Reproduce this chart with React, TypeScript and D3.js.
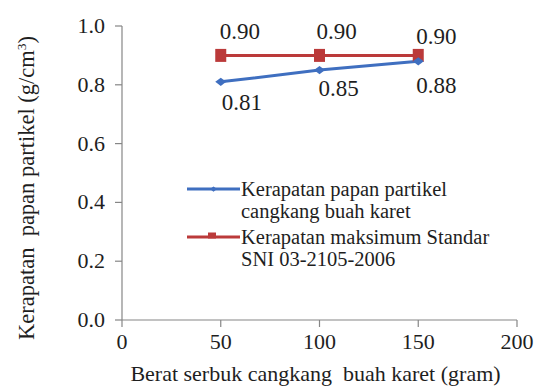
import React from "react";
import * as d3 from "d3";

const weights = [50, 100, 150];
const densityBoard = [0.81, 0.85, 0.88];
const densityStandard = [0.9, 0.9, 0.9];
const xTicks = [0, 50, 100, 150, 200];
const yTicks = [0, 0.2, 0.4, 0.6, 0.8, 1.0];
const legendBoard = ["Kerapatan papan partikel", "cangkang buah karet"];
const legendStandard = ["Kerapatan maksimum Standar", "SNI 03-2105-2006"];

const W = 535, H = 389;
const FONT = '"Liberation Serif", "Times New Roman", Tinos, serif';
const BLUE = "#3f6fc0";
const RED = "#bb3a3a";
const AXIS = "#868686";
const INK = "#1e1e1e";

export default function App() {
  const x = d3.scaleLinear().domain([0, 200]).range([122, 517]);
  const y = d3.scaleLinear().domain([0, 1]).range([320, 26]);
  const line = d3.line<[number, number]>().x(d => x(d[0])).y(d => y(d[1]));
  const boardPts = weights.map((w, i) => [w, densityBoard[i]] as [number, number]);
  const stdPts = weights.map((w, i) => [w, densityStandard[i]] as [number, number]);
  const diamond = (cx: number, cy: number, r: number) =>
    `M${cx - r},${cy} L${cx},${cy - r * 0.75} L${cx + r},${cy} L${cx},${cy + r * 0.75} Z`;
  const boardLabelOffsets = [[21, 21], [19, 18], [18, 24]];
  const stdLabelOffsets = [[19, -24], [17, -24], [18, -19]];
  const ts = { fontFamily: FONT };

  return (
    <svg width={W} height={H} style={{ position: "absolute", left: 0, top: 0, fontFamily: FONT }}>
      <rect width={W} height={H} fill="#fff" />
      {/* axes */}
      <line x1={x(0)} x2={x(0)} y1={y(1)} y2={y(0)} stroke={AXIS} strokeWidth={1.2} />
      <line x1={x(0)} x2={x(200)} y1={y(0)} y2={y(0)} stroke={AXIS} strokeWidth={1.2} />
      {yTicks.map(t => (
        <g key={"y" + t}>
          <line x1={x(0) - 7} x2={x(0)} y1={y(t)} y2={y(t)} stroke={AXIS} strokeWidth={1.2} />
          <text style={ts} x={105} y={y(t) + 7} textAnchor="end" fontSize={22} fill={INK}>
            {t.toFixed(1)}
          </text>
        </g>
      ))}
      {xTicks.map(t => (
        <g key={"x" + t}>
          <line x1={x(t)} x2={x(t)} y1={y(0)} y2={y(0) + 7} stroke={AXIS} strokeWidth={1.2} />
          <text style={ts} x={x(t)} y={349} textAnchor="middle" fontSize={22} fill={INK}>
            {String(t)}
          </text>
        </g>
      ))}
      <text style={ts} x={315.5} y={381} textAnchor="middle" fontSize={22} fill={INK} xmlSpace="preserve">
        Berat serbuk cangkang  buah karet (gram)
      </text>
      <text style={ts} transform={`translate(34,188) rotate(-90)`} textAnchor="middle" fontSize={22.5} fill={INK} xmlSpace="preserve">
        Kerapatan  papan partikel (g/cm<tspan dy="-8" fontSize={13.5}>3</tspan><tspan dy="8">)</tspan>
      </text>

      {/* series */}
      <path d={line(stdPts) || ""} fill="none" stroke={RED} strokeWidth={3} />
      <path d={line(boardPts) || ""} fill="none" stroke={BLUE} strokeWidth={3} />
      {stdPts.map((p, i) => (
        <rect key={"s" + i} x={x(p[0]) - 5.5} y={y(p[1]) - 6.5} width={11} height={13} fill={RED} />
      ))}
      {boardPts.map((p, i) => (
        <path key={"b" + i} d={diamond(x(p[0]), y(p[1]), 5.5)} fill={BLUE} />
      ))}
      {stdPts.map((p, i) => (
        <text style={ts} key={"sl" + i} x={x(p[0]) + stdLabelOffsets[i][0]} y={y(p[1]) + stdLabelOffsets[i][1] + 7.5} textAnchor="middle" fontSize={23} fill={INK}>
          {densityStandard[i].toFixed(2)}
        </text>
      ))}
      {boardPts.map((p, i) => (
        <text style={ts} key={"bl" + i} x={x(p[0]) + boardLabelOffsets[i][0]} y={y(p[1]) + boardLabelOffsets[i][1] + 7.5} textAnchor="middle" fontSize={23} fill={INK}>
          {densityBoard[i].toFixed(2)}
        </text>
      ))}

      {/* legend */}
      <line x1={187} x2={240} y1={189} y2={189} stroke={BLUE} strokeWidth={3} />
      <path d={diamond(213.5, 189, 3.5)} fill={BLUE} />
      <line x1={187} x2={240} y1={237} y2={237} stroke={RED} strokeWidth={3} />
      <rect x={208} y={232.5} width={8} height={6} fill={RED} />
      {legendBoard.map((t, i) => (
        <text style={ts} key={"lb" + i} x={241} y={196 + i * 22} fontSize={20.5} fill={INK}>{t}</text>
      ))}
      {legendStandard.map((t, i) => (
        <text style={ts} key={"ls" + i} x={241} y={244 + i * 22} fontSize={20.5} fill={INK}>{t}</text>
      ))}
    </svg>
  );
}
